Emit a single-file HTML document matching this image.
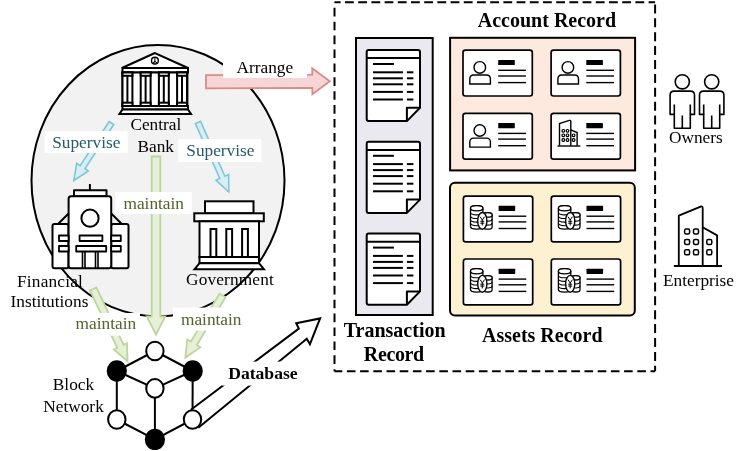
<!DOCTYPE html><html><head><meta charset="utf-8"><style>html,body{margin:0;padding:0;background:#fff;width:744px;height:451px;overflow:hidden}svg{display:block;will-change:transform}text{font-family:"Liberation Serif", serif}</style></head><body>
<svg width="744" height="451" viewBox="0 0 744 451">
<ellipse cx="158" cy="180.7" rx="126.5" ry="135.7" fill="#f2f2f2" stroke="#000" stroke-width="2"/>
<g stroke="#000" fill="#fff" stroke-width="2" stroke-linejoin="miter">
<polygon points="154.9,53 122,68 188,68"/>
<circle cx="154.9" cy="60.7" r="3.4" stroke-width="1.4"/>
<path d="M154.9,57.5V64 M154.9,61L152.6,63.3 M154.9,61L157.2,63.3" stroke-width="1"/>
<rect x="122.5" y="68" width="65.5" height="4.5"/>
<rect x="122.5" y="72.5" width="64.9" height="33.5"/>
<rect x="122.5" y="72.5" width="9.9" height="33.5"/>
<rect x="122.5" y="72.5" width="9.9" height="3.3" fill="#fff"/>
<rect x="122.5" y="102.7" width="9.9" height="3.3" fill="#fff"/>
<line x1="127.4" y1="75.8" x2="127.4" y2="102.7"/>
<rect x="140.7" y="72.5" width="9.9" height="33.5"/>
<rect x="140.7" y="72.5" width="9.9" height="3.3" fill="#fff"/>
<rect x="140.7" y="102.7" width="9.9" height="3.3" fill="#fff"/>
<line x1="145.6" y1="75.8" x2="145.6" y2="102.7"/>
<rect x="158.9" y="72.5" width="9.9" height="33.5"/>
<rect x="158.9" y="72.5" width="9.9" height="3.3" fill="#fff"/>
<rect x="158.9" y="102.7" width="9.9" height="3.3" fill="#fff"/>
<line x1="163.8" y1="75.8" x2="163.8" y2="102.7"/>
<rect x="177.1" y="72.5" width="9.9" height="33.5"/>
<rect x="177.1" y="72.5" width="9.9" height="3.3" fill="#fff"/>
<rect x="177.1" y="102.7" width="9.9" height="3.3" fill="#fff"/>
<line x1="182.0" y1="75.8" x2="182.0" y2="102.7"/>
<rect x="122.5" y="106" width="65.5" height="3.5"/>
<polygon points="122.5,109.5 188,109.5 191,114 119.5,114"/>
</g>
<polygon points="206.0,88.4 312.3,87.9 312.4,94.3 329.8,81.2 312.2,68.3 312.3,74.7 206.0,75.2" fill="#f5d5d5" stroke="#dc8a8a" stroke-width="1.8" stroke-linejoin="miter"/>
<rect x="223" y="52" width="84" height="26" fill="#fff"/>
<text transform="translate(236.5,72.5) scale(1,1.0)" font-size="17.3" fill="#000" font-weight="normal" text-anchor="start" >Arrange</text>
<polygon points="109.2,121.5 80.2,165.6 76.7,163.3 73.8,180.5 88.4,171.0 84.9,168.7 113.8,124.5" fill="#d7eef4" stroke="#80c5d9" stroke-width="1.6"/>
<polygon points="195.4,123.6 219.8,178.5 215.9,180.2 228.8,192.0 228.7,174.5 224.9,176.2 200.6,121.4" fill="#d7eef4" stroke="#80c5d9" stroke-width="1.6"/>
<rect x="44.7" y="131" width="83" height="22" fill="#fff"/>
<text transform="translate(52.2,148.2) scale(1,1.0)" font-size="17.3" fill="#245b6b" font-weight="normal" text-anchor="start" >Supervise</text>
<rect x="178.4" y="139" width="83" height="23" fill="#fff"/>
<text transform="translate(186.3,155.7) scale(1,1.0)" font-size="17.3" fill="#245b6b" font-weight="normal" text-anchor="start" >Supervise</text>
<polygon points="151.7,156.5 151.7,316.5 146.7,316.5 156.0,334.5 165.3,316.5 160.3,316.5 160.3,156.5" fill="#e6efd9" stroke="#bcd69c" stroke-width="1.8"/>
<polygon points="90.0,290.5 117.3,347.8 113.8,349.4 127.5,361.2 127.0,343.2 123.6,344.8 96.4,287.5" fill="#e6efd9" stroke="#bcd69c" stroke-width="1.8"/>
<polygon points="219.5,293.7 190.8,341.6 187.3,339.5 185.3,357.6 200.3,347.4 196.8,345.2 225.5,297.3" fill="#e6efd9" stroke="#bcd69c" stroke-width="1.8"/>
<rect x="115.4" y="192" width="76.3" height="22" fill="#fff"/>
<text transform="translate(123.5,209) scale(1,1.0)" font-size="17.3" fill="#50652b" font-weight="normal" text-anchor="start" >maintain</text>
<rect x="70" y="313" width="70" height="22.6" fill="#fff"/>
<text transform="translate(75.6,329) scale(1,1.0)" font-size="17.3" fill="#50652b" font-weight="normal" text-anchor="start" >maintain</text>
<rect x="173" y="307.6" width="74" height="23" fill="#fff"/>
<text transform="translate(181,324.5) scale(1,1.0)" font-size="17.3" fill="#50652b" font-weight="normal" text-anchor="start" >maintain</text>
<g stroke="#000" fill="#fff" stroke-width="2" stroke-linejoin="round">
<line x1="89.9" y1="184" x2="89.9" y2="190"/>
<rect x="74" y="190.3" width="32.5" height="6" />
<path d="M68.6,213.5 L58,224 M111.2,213.5 L121.8,224"/>
<rect x="52.5" y="224" width="16" height="44.3" rx="2"/>
<rect x="111.2" y="224" width="17.3" height="44.3" rx="2"/>
<rect x="68.6" y="196.3" width="42.6" height="72" rx="2.5"/>
<circle cx="90" cy="218.2" r="8.6"/>
<rect x="59" y="235.5" width="9.6" height="5.5" stroke-width="1.8"/>
<rect x="59" y="246" width="9.6" height="5.5" stroke-width="1.8"/>
<rect x="111.2" y="235.5" width="9.6" height="5.5" stroke-width="1.8"/>
<rect x="111.2" y="246" width="9.6" height="5.5" stroke-width="1.8"/>
<rect x="79.6" y="235.5" width="22.8" height="5.5" stroke-width="1.8"/>
<rect x="76.2" y="246" width="30" height="5.5" stroke-width="1.8"/>
<path d="M82.5,251.5V268 M85,251.5V268 M95.5,251.5V268 M98,251.5V268" stroke-width="1.6"/>
</g>
<g stroke="#000" fill="#fff" stroke-width="2">
<rect x="205" y="201.3" width="48.5" height="12" />
<rect x="194.3" y="213.3" width="69.5" height="8" />
<rect x="199.5" y="221.3" width="59.5" height="35.8" />
<rect x="210.5" y="229" width="5.8" height="28" />
<rect x="226.3" y="229" width="5.8" height="28" />
<rect x="242.1" y="229" width="5.8" height="28" />
<rect x="199.5" y="257" width="59.5" height="6.2" />
<polygon points="199.5,263.2 259,263.2 264,269.3 194.5,269.3"/>
</g>
<text transform="translate(130.4,129.7) scale(1,1.0)" font-size="17.3" fill="#000" font-weight="normal" text-anchor="start" >Central</text>
<text transform="translate(137.5,152) scale(1,1.0)" font-size="17.3" fill="#000" font-weight="normal" text-anchor="start" >Bank</text>
<text transform="translate(17,286.6) scale(1,1.0)" font-size="17.3" fill="#000" font-weight="normal" text-anchor="start" letter-spacing="0.2" >Financial</text>
<text transform="translate(10.6,306.9) scale(1,1.0)" font-size="17.3" fill="#000" font-weight="normal" text-anchor="start" >Institutions</text>
<text transform="translate(186,284.6) scale(1,1.0)" font-size="17.3" fill="#000" font-weight="normal" text-anchor="start" letter-spacing="0.15" >Government</text>
<text transform="translate(52.8,389.7) scale(1,1.0)" font-size="17.3" fill="#000" font-weight="normal" text-anchor="start" >Block</text>
<text transform="translate(43.3,412) scale(1,1.0)" font-size="17.3" fill="#000" font-weight="normal" text-anchor="start" >Network</text>
<g stroke="#000" stroke-width="2" fill="none">
<line x1="154.9" y1="351.0" x2="116.8" y2="371.0"/>
<line x1="154.9" y1="351.0" x2="192.7" y2="371.0"/>
<line x1="116.8" y1="371.0" x2="154.9" y2="388.4"/>
<line x1="192.7" y1="371.0" x2="154.9" y2="388.4"/>
<line x1="154.9" y1="388.4" x2="154.9" y2="439.4"/>
<line x1="116.8" y1="371.0" x2="116.8" y2="419.5"/>
<line x1="192.7" y1="371.0" x2="192.5" y2="419.5"/>
<line x1="116.8" y1="419.5" x2="154.9" y2="439.4"/>
<line x1="192.5" y1="419.5" x2="154.9" y2="439.4"/>
</g>
<polygon points="192.4,419.6 190.9,409.8 298.8,328.6 296.2,323.3 320.1,318.4 309.9,344.2 306.8,338.8 198.3,427.7" fill="#fff"/>
<path d="M190.9,409.8 L298.8,328.6 L296.2,323.3 L320.1,318.4 L309.9,344.2 L306.8,338.8 L198.3,427.7" fill="none" stroke="#000" stroke-width="2" stroke-linejoin="miter"/>
<rect x="222" y="361.6" width="80" height="24" fill="#fff"/>
<text transform="translate(228.2,379.2) scale(1,1.0)" font-size="17.6" fill="#000" font-weight="bold" text-anchor="start" >Database</text>
<g stroke="#000" stroke-width="2">
<ellipse cx="154.9" cy="351.0" rx="8.70" ry="9.30" fill="#fff"/>
<ellipse cx="116.8" cy="371.0" rx="9.10" ry="9.70" fill="#000"/>
<ellipse cx="192.7" cy="371.0" rx="9.10" ry="9.70" fill="#000"/>
<ellipse cx="154.9" cy="388.4" rx="8.70" ry="9.30" fill="#fff"/>
<ellipse cx="116.8" cy="419.5" rx="8.70" ry="9.30" fill="#fff"/>
<ellipse cx="192.5" cy="419.5" rx="8.70" ry="9.30" fill="#fff"/>
<ellipse cx="154.9" cy="439.4" rx="9.10" ry="9.70" fill="#000"/>
</g>
<g fill="none" stroke="#000" stroke-width="2">
<path d="M334.5,2.2 H655.1" stroke-dasharray="8.8 4.4" stroke-dashoffset="2.7"/>
<path d="M655.1,2.2 V371.2" stroke-dasharray="9 4.9" stroke-dashoffset="11.7"/>
<path d="M334.5,2.2 V371.2" stroke-dasharray="8.6 5.3" stroke-dashoffset="8.3"/>
<path d="M334.5,371.2 H655.1" stroke-dasharray="8.6 4.6" stroke-dashoffset="0.8"/>
</g>
<rect x="356" y="38" width="76.7" height="277" fill="#ebe9f0" stroke="#000" stroke-width="2"/>
<g stroke="#000" stroke-width="2" fill="#fff" stroke-linejoin="round" stroke-linecap="butt">
<path d="M368.7,50.0 H418.0 Q420.0,50.0 420.0,52.0 V107.8 L406.9,121.1 H368.7 Q366.7,121.1 366.7,119.1 V52.0 Q366.7,50.0 368.7,50.0 Z"/>
<path d="M406.9,121.1 V107.8 H420.0" fill="none"/>
<line x1="366.7" y1="58.1" x2="420.0" y2="58.1"/>
<line x1="373.0" y1="64.0" x2="393.9" y2="64.0"/>
<line x1="373.0" y1="72.3" x2="402.9" y2="72.3"/>
<line x1="406.9" y1="72.3" x2="413.4" y2="72.3"/>
<line x1="373.0" y1="78.3" x2="402.9" y2="78.3"/>
<line x1="406.9" y1="78.3" x2="413.4" y2="78.3"/>
<line x1="373.0" y1="84.3" x2="402.9" y2="84.3"/>
<line x1="406.9" y1="84.3" x2="413.4" y2="84.3"/>
<line x1="373.0" y1="91.9" x2="402.9" y2="91.9"/>
<line x1="406.9" y1="91.9" x2="413.4" y2="91.9"/>
<line x1="373.0" y1="99.5" x2="402.9" y2="99.5"/>
<line x1="406.9" y1="99.5" x2="413.4" y2="99.5"/>
</g>
<g stroke="#000" stroke-width="2" fill="#fff" stroke-linejoin="round" stroke-linecap="butt">
<path d="M368.7,141.8 H418.0 Q420.0,141.8 420.0,143.8 V199.6 L406.9,212.9 H368.7 Q366.7,212.9 366.7,210.9 V143.8 Q366.7,141.8 368.7,141.8 Z"/>
<path d="M406.9,212.9 V199.6 H420.0" fill="none"/>
<line x1="366.7" y1="149.9" x2="420.0" y2="149.9"/>
<line x1="373.0" y1="155.8" x2="393.9" y2="155.8"/>
<line x1="373.0" y1="164.1" x2="402.9" y2="164.1"/>
<line x1="406.9" y1="164.1" x2="413.4" y2="164.1"/>
<line x1="373.0" y1="170.1" x2="402.9" y2="170.1"/>
<line x1="406.9" y1="170.1" x2="413.4" y2="170.1"/>
<line x1="373.0" y1="176.1" x2="402.9" y2="176.1"/>
<line x1="406.9" y1="176.1" x2="413.4" y2="176.1"/>
<line x1="373.0" y1="183.7" x2="402.9" y2="183.7"/>
<line x1="406.9" y1="183.7" x2="413.4" y2="183.7"/>
<line x1="373.0" y1="191.3" x2="402.9" y2="191.3"/>
<line x1="406.9" y1="191.3" x2="413.4" y2="191.3"/>
</g>
<g stroke="#000" stroke-width="2" fill="#fff" stroke-linejoin="round" stroke-linecap="butt">
<path d="M368.7,233.6 H418.0 Q420.0,233.6 420.0,235.6 V291.4 L406.9,304.7 H368.7 Q366.7,304.7 366.7,302.7 V235.6 Q366.7,233.6 368.7,233.6 Z"/>
<path d="M406.9,304.7 V291.4 H420.0" fill="none"/>
<line x1="366.7" y1="241.7" x2="420.0" y2="241.7"/>
<line x1="373.0" y1="247.6" x2="393.9" y2="247.6"/>
<line x1="373.0" y1="255.9" x2="402.9" y2="255.9"/>
<line x1="406.9" y1="255.9" x2="413.4" y2="255.9"/>
<line x1="373.0" y1="261.9" x2="402.9" y2="261.9"/>
<line x1="406.9" y1="261.9" x2="413.4" y2="261.9"/>
<line x1="373.0" y1="267.9" x2="402.9" y2="267.9"/>
<line x1="406.9" y1="267.9" x2="413.4" y2="267.9"/>
<line x1="373.0" y1="275.5" x2="402.9" y2="275.5"/>
<line x1="406.9" y1="275.5" x2="413.4" y2="275.5"/>
<line x1="373.0" y1="283.1" x2="402.9" y2="283.1"/>
<line x1="406.9" y1="283.1" x2="413.4" y2="283.1"/>
</g>
<rect x="450.1" y="37.8" width="185" height="132.6" fill="#fde9dd" stroke="#000" stroke-width="2"/>
<rect x="450" y="182.8" width="184.8" height="132.6" rx="5" fill="#fdf1d2" stroke="#000" stroke-width="2"/>
<rect x="463.0" y="50.2" width="69.3" height="45.8" rx="2.4" fill="#fff" stroke="#000" stroke-width="1.7"/>
<rect x="498.2" y="59.9" width="16.6" height="5.2" rx="0.6" fill="#000"/>
<line x1="498.2" y1="70.3" x2="525.9" y2="70.3" stroke="#000" stroke-width="1.4"/>
<line x1="498.2" y1="76.0" x2="525.9" y2="76.0" stroke="#000" stroke-width="1.4"/>
<line x1="498.2" y1="82.6" x2="525.9" y2="82.6" stroke="#000" stroke-width="1.4"/>
<circle cx="479.8" cy="67.4" r="5.8" fill="#fff" stroke="#000" stroke-width="1.4"/>
<path d="M469.8,84.0 V79.0 Q469.8,75.0 473.8,75.0 H486.4 Q490.4,75.0 490.4,79.0 V84.0 Z" fill="#fff" stroke="#000" stroke-width="1.4"/>
<rect x="551.1" y="50.2" width="69.3" height="45.8" rx="2.4" fill="#fff" stroke="#000" stroke-width="1.7"/>
<rect x="586.3" y="59.9" width="16.6" height="5.2" rx="0.6" fill="#000"/>
<line x1="586.3" y1="70.3" x2="614.0" y2="70.3" stroke="#000" stroke-width="1.4"/>
<line x1="586.3" y1="76.0" x2="614.0" y2="76.0" stroke="#000" stroke-width="1.4"/>
<line x1="586.3" y1="82.6" x2="614.0" y2="82.6" stroke="#000" stroke-width="1.4"/>
<circle cx="567.9" cy="67.4" r="5.8" fill="#fff" stroke="#000" stroke-width="1.4"/>
<path d="M557.9,84.0 V79.0 Q557.9,75.0 561.9,75.0 H574.5 Q578.5,75.0 578.5,79.0 V84.0 Z" fill="#fff" stroke="#000" stroke-width="1.4"/>
<rect x="463.0" y="113.3" width="69.3" height="45.8" rx="2.4" fill="#fff" stroke="#000" stroke-width="1.7"/>
<rect x="498.2" y="123.0" width="16.6" height="5.2" rx="0.6" fill="#000"/>
<line x1="498.2" y1="133.4" x2="525.9" y2="133.4" stroke="#000" stroke-width="1.4"/>
<line x1="498.2" y1="139.1" x2="525.9" y2="139.1" stroke="#000" stroke-width="1.4"/>
<line x1="498.2" y1="145.7" x2="525.9" y2="145.7" stroke="#000" stroke-width="1.4"/>
<circle cx="479.8" cy="130.5" r="5.8" fill="#fff" stroke="#000" stroke-width="1.4"/>
<path d="M469.8,147.1 V142.1 Q469.8,138.1 473.8,138.1 H486.4 Q490.4,138.1 490.4,142.1 V147.1 Z" fill="#fff" stroke="#000" stroke-width="1.4"/>
<rect x="551.1" y="113.3" width="69.3" height="45.8" rx="2.4" fill="#fff" stroke="#000" stroke-width="1.7"/>
<rect x="586.3" y="123.0" width="16.6" height="5.2" rx="0.6" fill="#000"/>
<line x1="586.3" y1="133.4" x2="614.0" y2="133.4" stroke="#000" stroke-width="1.4"/>
<line x1="586.3" y1="139.1" x2="614.0" y2="139.1" stroke="#000" stroke-width="1.4"/>
<line x1="586.3" y1="145.7" x2="614.0" y2="145.7" stroke="#000" stroke-width="1.4"/>
<path d="M559.5,145.8 V123.5 L569.3,120.4 Q570.8,120.1 570.8,121.7 V145.8" fill="#fff" stroke="#000" stroke-width="1.4"/>
<path d="M570.8,129.8 L577.1,132.5 V145.8" fill="none" stroke="#000" stroke-width="1.4"/>
<line x1="557.5" y1="146.0" x2="580.3" y2="146.0" stroke="#000" stroke-width="1.4"/>
<rect x="562.0" y="129.5" width="2.6" height="2.6" rx="1" fill="none" stroke="#000" stroke-width="1.2"/>
<rect x="566.2" y="129.5" width="2.6" height="2.6" rx="1" fill="none" stroke="#000" stroke-width="1.2"/>
<rect x="562.0" y="134.0" width="2.6" height="2.6" rx="1" fill="none" stroke="#000" stroke-width="1.2"/>
<rect x="566.2" y="134.0" width="2.6" height="2.6" rx="1" fill="none" stroke="#000" stroke-width="1.2"/>
<rect x="562.0" y="138.7" width="2.6" height="2.6" rx="1" fill="none" stroke="#000" stroke-width="1.2"/>
<rect x="566.2" y="138.7" width="2.6" height="2.6" rx="1" fill="none" stroke="#000" stroke-width="1.2"/>
<rect x="572.3" y="134.0" width="2.6" height="2.6" rx="1" fill="none" stroke="#000" stroke-width="1.2"/>
<rect x="572.3" y="138.7" width="2.6" height="2.6" rx="1" fill="none" stroke="#000" stroke-width="1.2"/>
<rect x="463.4" y="196.1" width="69.3" height="45.8" rx="2.4" fill="#fff" stroke="#000" stroke-width="1.7"/>
<rect x="498.6" y="205.8" width="16.6" height="5.2" rx="0.6" fill="#000"/>
<line x1="498.6" y1="216.2" x2="526.3" y2="216.2" stroke="#000" stroke-width="1.4"/>
<line x1="498.6" y1="221.9" x2="526.3" y2="221.9" stroke="#000" stroke-width="1.4"/>
<line x1="498.6" y1="228.5" x2="526.3" y2="228.5" stroke="#000" stroke-width="1.4"/>
<path d="M470.5,208.3 V226.6 A6.2,2.6 0 0 0 482.9,226.6 V208.3 A6.2,2.6 0 0 0 470.5,208.3 Z" fill="#fff" stroke="#000" stroke-width="1.3"/>
<ellipse cx="476.7" cy="208.3" rx="6.2" ry="2.6" fill="#fff" stroke="#000" stroke-width="1.3"/>
<path d="M470.5,212.3 A6.2,2.6 0 0 0 482.9,212.3" fill="none" stroke="#000" stroke-width="1.1"/>
<path d="M470.5,215.9 A6.2,2.6 0 0 0 482.9,215.9" fill="none" stroke="#000" stroke-width="1.1"/>
<path d="M470.5,219.5 A6.2,2.6 0 0 0 482.9,219.5" fill="none" stroke="#000" stroke-width="1.1"/>
<path d="M470.5,223.1 A6.2,2.6 0 0 0 482.9,223.1" fill="none" stroke="#000" stroke-width="1.1"/>
<path d="M483.5,214.9 V226.9 A4.3,2.2 0 0 0 492.1,226.9 V214.9 A4.3,2.2 0 0 0 483.5,214.9 Z" fill="#fff" stroke="#000" stroke-width="1.3"/>
<ellipse cx="487.8" cy="214.9" rx="4.3" ry="2.2" fill="#fff" stroke="#000" stroke-width="1.3"/>
<path d="M483.5,218.9 A4.3,2.2 0 0 0 492.1,218.9" fill="none" stroke="#000" stroke-width="1.1"/>
<path d="M483.5,222.9 A4.3,2.2 0 0 0 492.1,222.9" fill="none" stroke="#000" stroke-width="1.1"/>
<ellipse cx="482.3" cy="220.9" rx="4.6" ry="8.4" fill="#fff" stroke="#000" stroke-width="1.4"/>
<path d="M480.1,216.7 L482.3,220.1 L484.5,216.7 M482.3,220.1 V225.5 M480.3,221.3 H484.3 M480.3,223.2 H484.3" fill="none" stroke="#000" stroke-width="1"/>
<rect x="551.3" y="196.1" width="69.3" height="45.8" rx="2.4" fill="#fff" stroke="#000" stroke-width="1.7"/>
<rect x="586.5" y="205.8" width="16.6" height="5.2" rx="0.6" fill="#000"/>
<line x1="586.5" y1="216.2" x2="614.2" y2="216.2" stroke="#000" stroke-width="1.4"/>
<line x1="586.5" y1="221.9" x2="614.2" y2="221.9" stroke="#000" stroke-width="1.4"/>
<line x1="586.5" y1="228.5" x2="614.2" y2="228.5" stroke="#000" stroke-width="1.4"/>
<path d="M558.4,208.3 V226.6 A6.2,2.6 0 0 0 570.8,226.6 V208.3 A6.2,2.6 0 0 0 558.4,208.3 Z" fill="#fff" stroke="#000" stroke-width="1.3"/>
<ellipse cx="564.6" cy="208.3" rx="6.2" ry="2.6" fill="#fff" stroke="#000" stroke-width="1.3"/>
<path d="M558.4,212.3 A6.2,2.6 0 0 0 570.8,212.3" fill="none" stroke="#000" stroke-width="1.1"/>
<path d="M558.4,215.9 A6.2,2.6 0 0 0 570.8,215.9" fill="none" stroke="#000" stroke-width="1.1"/>
<path d="M558.4,219.5 A6.2,2.6 0 0 0 570.8,219.5" fill="none" stroke="#000" stroke-width="1.1"/>
<path d="M558.4,223.1 A6.2,2.6 0 0 0 570.8,223.1" fill="none" stroke="#000" stroke-width="1.1"/>
<path d="M571.4,214.9 V226.9 A4.3,2.2 0 0 0 580.0,226.9 V214.9 A4.3,2.2 0 0 0 571.4,214.9 Z" fill="#fff" stroke="#000" stroke-width="1.3"/>
<ellipse cx="575.7" cy="214.9" rx="4.3" ry="2.2" fill="#fff" stroke="#000" stroke-width="1.3"/>
<path d="M571.4,218.9 A4.3,2.2 0 0 0 580.0,218.9" fill="none" stroke="#000" stroke-width="1.1"/>
<path d="M571.4,222.9 A4.3,2.2 0 0 0 580.0,222.9" fill="none" stroke="#000" stroke-width="1.1"/>
<ellipse cx="570.2" cy="220.9" rx="4.6" ry="8.4" fill="#fff" stroke="#000" stroke-width="1.4"/>
<path d="M568.0,216.7 L570.2,220.1 L572.4,216.7 M570.2,220.1 V225.5 M568.2,221.3 H572.2 M568.2,223.2 H572.2" fill="none" stroke="#000" stroke-width="1"/>
<rect x="463.4" y="259.0" width="69.3" height="45.8" rx="2.4" fill="#fff" stroke="#000" stroke-width="1.7"/>
<rect x="498.6" y="268.7" width="16.6" height="5.2" rx="0.6" fill="#000"/>
<line x1="498.6" y1="279.1" x2="526.3" y2="279.1" stroke="#000" stroke-width="1.4"/>
<line x1="498.6" y1="284.8" x2="526.3" y2="284.8" stroke="#000" stroke-width="1.4"/>
<line x1="498.6" y1="291.4" x2="526.3" y2="291.4" stroke="#000" stroke-width="1.4"/>
<path d="M470.5,271.2 V289.5 A6.2,2.6 0 0 0 482.9,289.5 V271.2 A6.2,2.6 0 0 0 470.5,271.2 Z" fill="#fff" stroke="#000" stroke-width="1.3"/>
<ellipse cx="476.7" cy="271.2" rx="6.2" ry="2.6" fill="#fff" stroke="#000" stroke-width="1.3"/>
<path d="M470.5,275.2 A6.2,2.6 0 0 0 482.9,275.2" fill="none" stroke="#000" stroke-width="1.1"/>
<path d="M470.5,278.8 A6.2,2.6 0 0 0 482.9,278.8" fill="none" stroke="#000" stroke-width="1.1"/>
<path d="M470.5,282.4 A6.2,2.6 0 0 0 482.9,282.4" fill="none" stroke="#000" stroke-width="1.1"/>
<path d="M470.5,286.0 A6.2,2.6 0 0 0 482.9,286.0" fill="none" stroke="#000" stroke-width="1.1"/>
<path d="M483.5,277.8 V289.8 A4.3,2.2 0 0 0 492.1,289.8 V277.8 A4.3,2.2 0 0 0 483.5,277.8 Z" fill="#fff" stroke="#000" stroke-width="1.3"/>
<ellipse cx="487.8" cy="277.8" rx="4.3" ry="2.2" fill="#fff" stroke="#000" stroke-width="1.3"/>
<path d="M483.5,281.8 A4.3,2.2 0 0 0 492.1,281.8" fill="none" stroke="#000" stroke-width="1.1"/>
<path d="M483.5,285.8 A4.3,2.2 0 0 0 492.1,285.8" fill="none" stroke="#000" stroke-width="1.1"/>
<ellipse cx="482.3" cy="283.8" rx="4.6" ry="8.4" fill="#fff" stroke="#000" stroke-width="1.4"/>
<path d="M480.1,279.6 L482.3,283.0 L484.5,279.6 M482.3,283.0 V288.4 M480.3,284.2 H484.3 M480.3,286.1 H484.3" fill="none" stroke="#000" stroke-width="1"/>
<rect x="551.3" y="259.0" width="69.3" height="45.8" rx="2.4" fill="#fff" stroke="#000" stroke-width="1.7"/>
<rect x="586.5" y="268.7" width="16.6" height="5.2" rx="0.6" fill="#000"/>
<line x1="586.5" y1="279.1" x2="614.2" y2="279.1" stroke="#000" stroke-width="1.4"/>
<line x1="586.5" y1="284.8" x2="614.2" y2="284.8" stroke="#000" stroke-width="1.4"/>
<line x1="586.5" y1="291.4" x2="614.2" y2="291.4" stroke="#000" stroke-width="1.4"/>
<path d="M558.4,271.2 V289.5 A6.2,2.6 0 0 0 570.8,289.5 V271.2 A6.2,2.6 0 0 0 558.4,271.2 Z" fill="#fff" stroke="#000" stroke-width="1.3"/>
<ellipse cx="564.6" cy="271.2" rx="6.2" ry="2.6" fill="#fff" stroke="#000" stroke-width="1.3"/>
<path d="M558.4,275.2 A6.2,2.6 0 0 0 570.8,275.2" fill="none" stroke="#000" stroke-width="1.1"/>
<path d="M558.4,278.8 A6.2,2.6 0 0 0 570.8,278.8" fill="none" stroke="#000" stroke-width="1.1"/>
<path d="M558.4,282.4 A6.2,2.6 0 0 0 570.8,282.4" fill="none" stroke="#000" stroke-width="1.1"/>
<path d="M558.4,286.0 A6.2,2.6 0 0 0 570.8,286.0" fill="none" stroke="#000" stroke-width="1.1"/>
<path d="M571.4,277.8 V289.8 A4.3,2.2 0 0 0 580.0,289.8 V277.8 A4.3,2.2 0 0 0 571.4,277.8 Z" fill="#fff" stroke="#000" stroke-width="1.3"/>
<ellipse cx="575.7" cy="277.8" rx="4.3" ry="2.2" fill="#fff" stroke="#000" stroke-width="1.3"/>
<path d="M571.4,281.8 A4.3,2.2 0 0 0 580.0,281.8" fill="none" stroke="#000" stroke-width="1.1"/>
<path d="M571.4,285.8 A4.3,2.2 0 0 0 580.0,285.8" fill="none" stroke="#000" stroke-width="1.1"/>
<ellipse cx="570.2" cy="283.8" rx="4.6" ry="8.4" fill="#fff" stroke="#000" stroke-width="1.4"/>
<path d="M568.0,279.6 L570.2,283.0 L572.4,279.6 M570.2,283.0 V288.4 M568.2,284.2 H572.2 M568.2,286.1 H572.2" fill="none" stroke="#000" stroke-width="1"/>
<circle cx="682.3" cy="81.8" r="7.1" fill="#fff" stroke="#000" stroke-width="1.6"/>
<path d="M670.1,95.2 Q670.1,91.1 674.2,91.1 H690.4 Q694.5,91.1 694.5,95.2 V114.4 H690.3 V128.3 H674.3 V114.4 H670.1 Z" fill="#fff" stroke="#000" stroke-width="1.6" stroke-linejoin="round"/>
<path d="M674.3,104.4 V114.4 M690.3,104.4 V114.4 M682.3,115.5 V128.3" fill="none" stroke="#000" stroke-width="1.6"/>
<circle cx="711.7" cy="81.8" r="7.1" fill="#fff" stroke="#000" stroke-width="1.6"/>
<path d="M699.5,95.2 Q699.5,91.1 703.6,91.1 H719.8 Q723.9,91.1 723.9,95.2 V114.4 H719.7 V128.3 H703.7 V114.4 H699.5 Z" fill="#fff" stroke="#000" stroke-width="1.6" stroke-linejoin="round"/>
<path d="M703.7,104.4 V114.4 M719.7,104.4 V114.4 M711.7,115.5 V128.3" fill="none" stroke="#000" stroke-width="1.6"/>
<text transform="translate(669,142.8) scale(1,1.0)" font-size="17.3" fill="#000" font-weight="normal" text-anchor="start" >Owners</text>
<g fill="none" stroke="#000" stroke-width="1.8" stroke-linejoin="round">
<path d="M678.8,265.6 V215.6 L700.6,206.6 Q702.7,205.9 702.7,208.2 V265.6"/>
<path d="M702.7,227.2 L717.1,235.4 V265.6"/>
<line x1="673.9" y1="266" x2="722" y2="266"/>
<rect x="684.6" y="229.1" width="5" height="5" rx="1.5" stroke-width="1.5"/>
<rect x="693.5" y="229.1" width="5" height="5" rx="1.5" stroke-width="1.5"/>
<rect x="684.6" y="239.5" width="5" height="5" rx="1.5" stroke-width="1.5"/>
<rect x="693.5" y="239.5" width="5" height="5" rx="1.5" stroke-width="1.5"/>
<rect x="684.6" y="249.8" width="5" height="5" rx="1.5" stroke-width="1.5"/>
<rect x="693.5" y="249.8" width="5" height="5" rx="1.5" stroke-width="1.5"/>
<rect x="706.8" y="239.5" width="5" height="5" rx="1.5" stroke-width="1.5"/>
<rect x="706.8" y="249.8" width="5" height="5" rx="1.5" stroke-width="1.5"/>
</g>
<text transform="translate(663,286.4) scale(1,1.0)" font-size="17.3" fill="#000" font-weight="normal" text-anchor="start" >Enterprise</text>
<text transform="translate(477.8,26.6) scale(1,1.0)" font-size="20" fill="#000" font-weight="bold" text-anchor="start" >Account Record</text>
<text transform="translate(343.7,336.5) scale(1,1.0)" font-size="20" fill="#000" font-weight="bold" text-anchor="start" >Transaction</text>
<text transform="translate(363.8,361) scale(1,1.0)" font-size="20" fill="#000" font-weight="bold" text-anchor="start" letter-spacing="-0.35" >Record</text>
<text transform="translate(482,341.6) scale(1,1.0)" font-size="20" fill="#000" font-weight="bold" text-anchor="start" >Assets Record</text>
</svg></body></html>
